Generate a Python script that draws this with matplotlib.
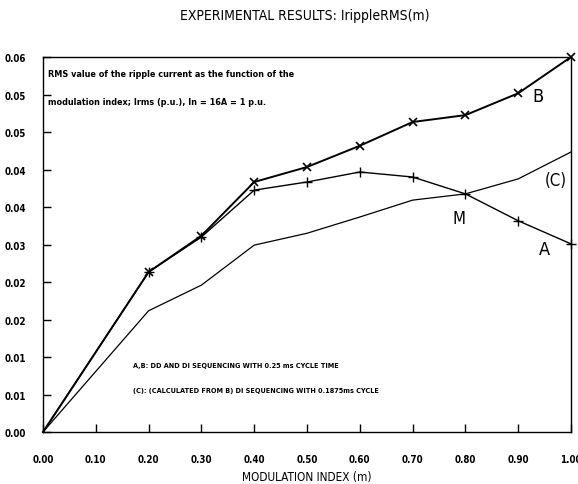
import matplotlib
matplotlib.use('Agg')
import matplotlib.pyplot as plt
from matplotlib.ticker import FixedLocator

plt.rcParams['font.family'] = ['DejaVu Sans']
plt.rcParams['font.stretch'] = 'condensed'

m = [0.0, 0.2, 0.3, 0.4, 0.5, 0.6, 0.7, 0.8, 0.9, 1.0]
curve_b = [0.0, 0.0256, 0.0314, 0.0400, 0.0424, 0.0458, 0.0496, 0.0507, 0.0542, 0.0600]
curve_a = [0.0, 0.0256, 0.0312, 0.0387, 0.0400, 0.0416, 0.0408, 0.0381, 0.0338, 0.0301]
curve_c = [0.0, 0.0194, 0.0235, 0.0299, 0.0318, 0.0344, 0.0371, 0.0381, 0.0405, 0.0448]

x_ticks = [0.0, 0.1, 0.2, 0.3, 0.4, 0.5, 0.6, 0.7, 0.8, 0.9, 1.0]
y_ticks = [0.0, 0.006, 0.012, 0.018, 0.024, 0.030, 0.036, 0.042, 0.048, 0.054, 0.060]

fig = plt.figure(figsize=(5.78, 4.85), dpi=100)
ax = fig.add_axes([0.0744, 0.1072, 0.9135, 0.7732])

ax.plot(m, curve_b, color='black', linewidth=1.4, marker='x', markersize=6,
        markeredgewidth=1.2, markevery=slice(1, None), clip_on=False)
ax.plot(m, curve_a, color='black', linewidth=1.0, marker='+', markersize=7,
        markeredgewidth=1.0, markevery=slice(1, None), clip_on=False)
ax.plot(m, curve_c, color='black', linewidth=0.9)

ax.set_xlim(0, 1.0)
ax.set_ylim(0, 0.06)
ax.xaxis.set_major_locator(FixedLocator(x_ticks))
ax.yaxis.set_major_locator(FixedLocator(y_ticks))
ax.set_xticklabels([f'{v:.2f}' for v in x_ticks])
ax.set_yticklabels([f'{v:.2f}' for v in y_ticks])
ax.tick_params(direction='in', length=6, width=1, labelsize=7)
ax.tick_params(axis='x', pad=16)
ax.tick_params(axis='y', pad=12)
for lab in ax.get_xticklabels() + ax.get_yticklabels():
    lab.set_fontweight('bold')
for spine in ax.spines.values():
    spine.set_linewidth(1.0)

ax.set_xlabel('MODULATION INDEX (m)', fontsize=8.5, labelpad=4)
fig.text(0.528, 0.968, 'EXPERIMENTAL RESULTS: IrippleRMS(m)',
         fontsize=10, ha='center', va='center')

ax.text(0.01, 0.955, 'RMS value of the ripple current as the function of the',
        transform=ax.transAxes, fontsize=6.5, fontweight='bold', va='center')
ax.text(0.01, 0.882, 'modulation index; Irms (p.u.), In = 16A = 1 p.u.',
        transform=ax.transAxes, fontsize=6.5, fontweight='bold', va='center')

ax.text(0.17, 0.18, 'A,B: DD AND DI SEQUENCING WITH 0.25 ms CYCLE TIME',
        transform=ax.transAxes, fontsize=5.2, fontweight='bold', va='center')
ax.text(0.17, 0.113, '(C): (CALCULATED FROM B) DI SEQUENCING WITH 0.1875ms CYCLE',
        transform=ax.transAxes, fontsize=5.2, fontweight='bold', va='center')

ax.text(0.927, 0.0538, 'B', fontsize=13, va='center')
ax.text(0.95, 0.0403, '(C)', fontsize=12, va='center')
ax.text(0.775, 0.0342, 'M', fontsize=12, va='center')
ax.text(0.94, 0.0293, 'A', fontsize=13, va='center')

fig.savefig('out.png', dpi=100)
